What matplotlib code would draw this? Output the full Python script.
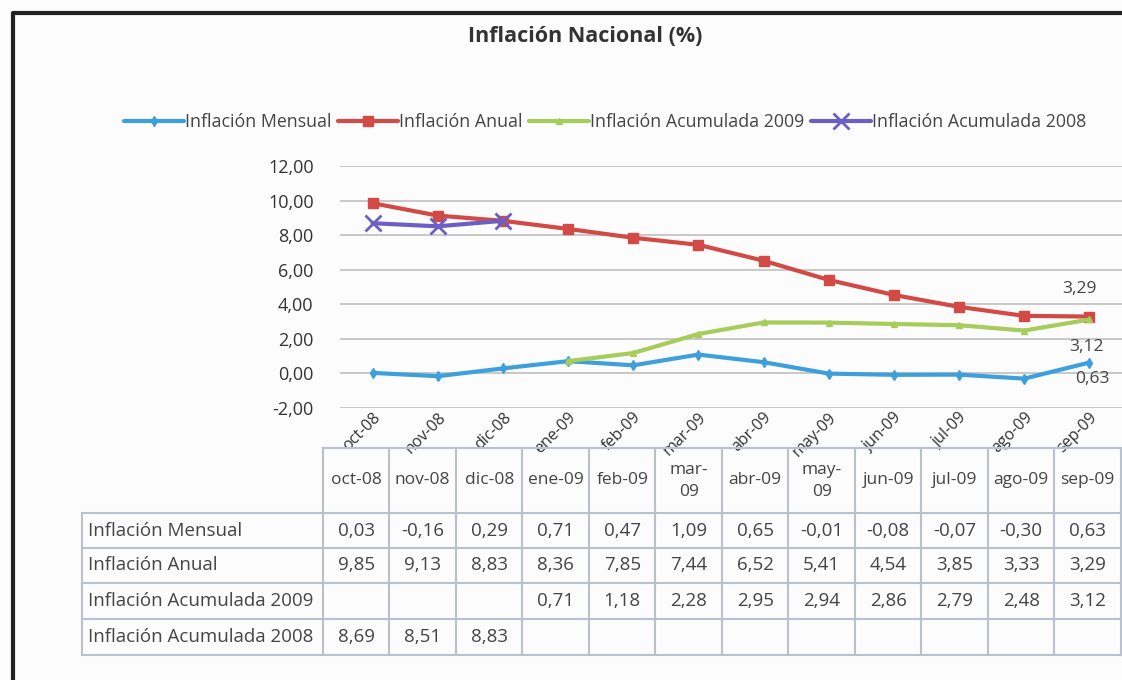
import numpy as np
import matplotlib.pyplot as plt
from matplotlib.lines import Line2D
from matplotlib.ticker import FuncFormatter

plt.rcParams["font.family"] = ["Open Sans", "DejaVu Sans"]
plt.rcParams["font.size"] = 12

# datos (tabla del gráfico)
meses = ["oct-08", "nov-08", "dic-08", "ene-09", "feb-09", "mar-09",
         "abr-09", "may-09", "jun-09", "jul-09", "ago-09", "sep-09"]
meses_tabla = ["oct-08", "nov-08", "dic-08", "ene-09", "feb-09", "mar-\n09",
               "abr-09", "may-\n09", "jun-09", "jul-09", "ago-09", "sep-09"]
series = ["Inflación Mensual", "Inflación Anual",
          "Inflación Acumulada 2009", "Inflación Acumulada 2008"]
mensual = [0.03, -0.16, 0.29, 0.71, 0.47, 1.09, 0.65, -0.01, -0.08, -0.07, -0.30, 0.63]
anual = [9.85, 9.13, 8.83, 8.36, 7.85, 7.44, 6.52, 5.41, 4.54, 3.85, 3.33, 3.29]
acum_2009 = [np.nan, np.nan, np.nan, 0.71, 1.18, 2.28, 2.95, 2.94, 2.86, 2.79, 2.48, 3.12]
acum_2008 = [8.69, 8.51, 8.83] + [np.nan] * 9
valores = [mensual, anual, acum_2009, acum_2008]

colores = ["#3d9fdc", "#d24a45", "#a6cc5a", "#6b5fc4"]
marcas = ["d", "s", "^", "x"]
tam = [5, 7, 5, 11]
texto = "#444444"

def coma(v, pos=None):
    return ("%.2f" % v).replace(".", ",")

fig = plt.figure(figsize=(11.22, 6.8), dpi=100)
fig.patch.set_facecolor("#fdfcfc")

# área del gráfico
ax = fig.add_axes([340 / 1122, 1 - 408 / 680, 782 / 1122, 242 / 680])
ax.set_facecolor("none")
x = np.arange(len(meses))
for vals, nombre, c, m, s in zip(valores, series, colores, marcas, tam):
    ax.plot(x, vals, color=c, lw=3, marker=m, ms=s, mew=2 if m == "x" else 1,
            label=nombre, solid_capstyle="round")

ax.set_xlim(-0.5, 11.5)
ax.set_ylim(-2, 12)
ax.set_yticks(range(-2, 13, 2))
ax.yaxis.set_major_formatter(FuncFormatter(coma))
ax.set_xticks(x)
ax.set_xticklabels(meses, rotation=45, ha="right", va="top", rotation_mode="anchor")
ax.tick_params(length=0, colors="#333333")
ax.tick_params(axis="y", pad=19, labelsize=13)
ax.tick_params(axis="x", pad=1, labelsize=11.5)
ax.grid(axis="y", color="#c4c4c4", lw=1.3)
ax.set_axisbelow(True)
for sp in ax.spines.values():
    sp.set_visible(False)

# etiquetas del último mes
ult = len(meses) - 1
ax.annotate(coma(anual[ult]), (ult, anual[ult]), xytext=(-7, 20),
            textcoords="offset points", ha="center", va="center", color=texto, fontsize=12.5)
ax.annotate(coma(acum_2009[ult]), (ult, acum_2009[ult]), xytext=(-2, -20),
            textcoords="offset points", ha="center", va="center", color=texto, fontsize=12.5)
ax.annotate(coma(mensual[ult]), (ult, mensual[ult]), xytext=(2, -12),
            textcoords="offset points", ha="center", va="center", color=texto, fontsize=12.5)

fig.text(585 / 1122, 1 - 37 / 680, "Inflación Nacional (%)", ha="center", va="center",
         fontsize=15.5, fontweight="bold", color="#333333")
fig.legend(loc="center", bbox_to_anchor=(605 / 1122, 1 - 122 / 680), ncol=4,
           frameon=False, handlelength=3.4, columnspacing=0.35, handletextpad=0.05,
           fontsize=12.8, labelcolor=texto)

# tabla de datos
tb = fig.add_axes([0, 0, 1, 1])
tb.set_xlim(0, 1122)
tb.set_ylim(680, 0)
tb.axis("off")
tb.patch.set_visible(False)

col0, colw = 323, 66.5
lab0 = 82
filas = [448, 513, 548, 583, 619, 655]
gris = "#b9c2cc"
xs = [col0 + i * colw for i in range(len(meses) + 1)]
tb.plot([col0, xs[-1]], [filas[0], filas[0]], color=gris, lw=1.5)
for yy in filas[1:]:
    tb.plot([lab0, xs[-1]], [yy, yy], color=gris, lw=1.5)
for xx in xs:
    tb.plot([xx, xx], [filas[0], filas[-1]], color=gris, lw=1.5)
tb.plot([lab0, lab0], [filas[1], filas[-1]], color=gris, lw=1.5)

for i, m in enumerate(meses_tabla):
    tb.text(xs[i] + colw / 2, (filas[0] + filas[1]) / 2, m, ha="center", va="center",
            fontsize=12.5, color=texto, linespacing=1.5)
for j, (nombre, vals) in enumerate(zip(series, valores)):
    yc = (filas[j + 1] + filas[j + 2]) / 2
    tb.text(lab0 + 6, yc, nombre, ha="left", va="center", fontsize=13.5, color=texto)
    for i, v in enumerate(vals):
        if not np.isnan(v):
            tb.text(xs[i] + colw / 2, yc, coma(v), ha="center", va="center",
                    fontsize=13.5, color=texto)

# marco
tb.add_line(Line2D([13, 13, 1122], [680, 13, 13], color="#222222", lw=3))

plt.savefig("out.png", dpi=100)
